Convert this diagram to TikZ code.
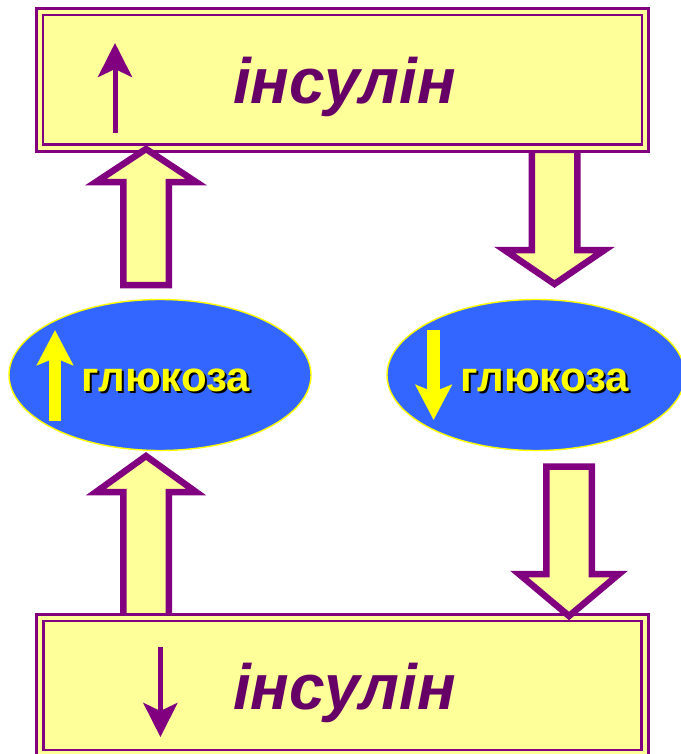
\documentclass[tikz,border=0pt]{standalone}
\usepackage{fontspec}
\setmainfont{Liberation Sans}
\usetikzlibrary{arrows.meta,shapes.geometric,calc}
\definecolor{boxfill}{HTML}{FFFF99}
\definecolor{boxline}{HTML}{800080}
\definecolor{textpurple}{HTML}{660066}
\definecolor{ellblue}{HTML}{3366FF}
\definecolor{yel}{HTML}{FFFF00}
\tikzset{
  insbox/.style={rectangle, draw=boxline, double=boxfill, double distance=4pt,
    line width=2.7pt, fill=boxfill, inner sep=0pt},
  instext/.style={text=textpurple, font=\fontsize{64}{70}\selectfont\bfseries\itshape, inner sep=0pt, anchor=base},
  glell/.style={ellipse, fill=ellblue, draw=yel, line width=1.4pt, inner sep=0pt,
    minimum height=151pt},
  gltext/.style={font=\fontsize{42}{48}\selectfont\bfseries, inner sep=0pt, anchor=base, text=yel},
  blockarrow/.style={draw=boxline, fill=boxfill, line width=6.5pt, miter limit=20},
  smallpurple/.style={draw=boxline, line width=5pt,
    -{Stealth[length=34pt, width=34pt, inset=8pt]}},
  smallyellow/.style={draw=yel, line width=12.5pt,
    -{Stealth[length=35pt, width=36pt, inset=7pt]}}
}
% text with a black drop shadow
\newcommand\shadowtext[1]{\rlap{\hspace{2pt}\raisebox{-2pt}{\textcolor{black}{#1}}}#1}
% block arrow from tail coordinate #1 to tip coordinate #2, #3 = signed head length (canvas)
\newcommand\blockarr[3]{%
  \draw[blockarrow] let \p1=(#1), \p2=(#2) in
    (\x1-22.75pt,\y1) -- (\x1-22.75pt,\y2+#3) -- (\x1-50pt,\y2+#3) -- (\x2,\y2)
    -- (\x1+50pt,\y2+#3) -- (\x1+22.75pt,\y2+#3) -- (\x1+22.75pt,\y1) -- cycle;}

\begin{document}
\begin{tikzpicture}[x=1pt,y=-1pt]
\useasboundingbox (0,0) rectangle (680,754);

% coordinates for block-arrow ends
\coordinate (trTail) at (554.5,150);
\coordinate (trTip)  at (554.5,284);
\coordinate (blTail) at (146,617);
\coordinate (blTip)  at (146,456);
\coordinate (tlTail) at (146,285);
\coordinate (tlTip)  at (146,149);
\coordinate (brTail) at (569,466.5);
\coordinate (brTip)  at (569,616);

% arrows that lie under the boxes
\blockarr{trTail}{trTip}{34pt}
\blockarr{blTail}{blTip}{-36pt}

% boxes
\node[insbox, minimum width=605.5pt, minimum height=136.3pt] (top) at (342.45,79.7) {};
\node[insbox, minimum width=605pt, minimum height=135.9pt] (bot) at (342.5,685.5) {};

\node[instext] (topT) at (344.6,104) {інсулін};
\node[instext] (botT) at (344.6,709) {інсулін};

\coordinate (upS) at (115,133);
\coordinate (upE) at (115,43);
\draw[smallpurple] (upS) -- (upE);
\coordinate (dnS) at (160.4,647);
\coordinate (dnE) at (160.4,737);
\draw[smallpurple] (dnS) -- (dnE);

% arrows that lie over the boxes
\blockarr{tlTail}{tlTip}{-33pt}
\blockarr{brTail}{brTip}{42pt}

% ellipses
\node[glell, minimum width=302pt] (gl1) at (160,375) {};
\node[glell, minimum width=298pt] (gl2) at (536,375) {};

\coordinate (yu1) at (55,421);
\coordinate (yu2) at (55,330);
\draw[smallyellow] (yu1) -- (yu2);
\coordinate (yd1) at (433.6,330);
\coordinate (yd2) at (433.6,420);
\draw[smallyellow] (yd1) -- (yd2);

\node[gltext] (g1) at (166,391) {\shadowtext{глюкоза}};
\node[gltext] (g2) at (545,391) {\shadowtext{глюкоза}};
\end{tikzpicture}
\end{document}
